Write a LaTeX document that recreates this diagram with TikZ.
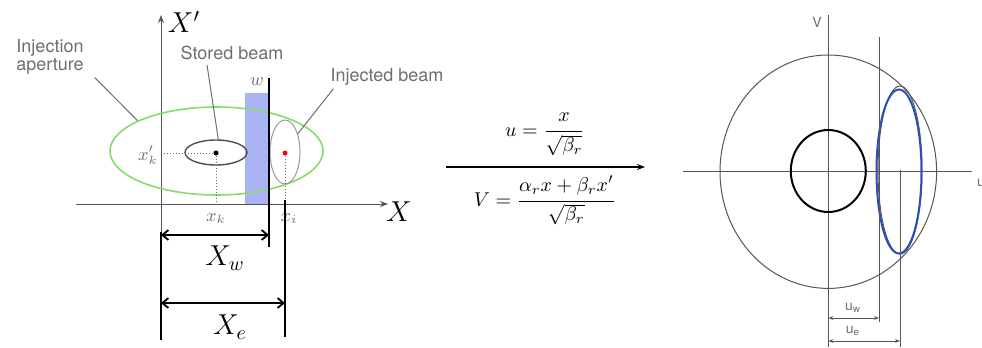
\documentclass[tikz,border=0pt]{standalone}
\usepackage{amsmath}
\usepackage{fontspec}
\setsansfont{TeX Gyre Heros}
\usepackage{tikz}
\usetikzlibrary{positioning,arrows.meta,calc,shapes.geometric}
\definecolor{apgreen}{HTML}{86DC6A}
\definecolor{septum}{HTML}{AAB3F4}
\definecolor{lblgray}{HTML}{6E6E6E}
\definecolor{axisgray}{HTML}{555555}
\definecolor{injblue}{HTML}{2B4FB8}

\begin{document}
\begin{tikzpicture}[
  x=0.5pt, y=-0.5pt,
  axis/.style={draw=axisgray, line width=0.5pt},
  bar/.style={line width=1.2pt},
  dim/.style={line width=0.9pt, {Straight Barb[length=3pt,width=5pt]}-{Straight Barb[length=3pt,width=5pt]}},
  thindim/.style={draw=axisgray, line width=0.4pt, {Stealth[length=2.5pt]}-{Stealth[length=2.5pt]}},
  beam/.style={ellipse, draw, inner sep=0pt},
  lbl/.style={font=\sffamily\small, text=lblgray},
  tiny/.style={font=\sffamily\scriptsize, text=lblgray},
  lead/.style={draw=lblgray, line width=0.5pt},
  dot/.style={circle, fill, inner sep=0pt, minimum size=2.5pt},
  guide/.style={densely dotted, draw=lblgray, line width=0.5pt},
  hand/.style={font=\Large},
  sym/.style={text=lblgray, font=\small},
  >={Stealth[length=4pt]}
]
\useasboundingbox (0,0) rectangle (982,348);

% ---- x-x' phase space ----
\coordinate (xbeg) at (76,204);
\coordinate (xend) at (388,204);
\coordinate (ybot) at (161,232);
\coordinate (ytop) at (161,15);
\fill[septum] (245,93) rectangle (268,204);
\draw[axis,->] (xbeg) -- (xend);
\draw[axis,->] (ybot) -- (ytop);
\node[hand] (xlab) at (399,212) {$X$};
\node[hand] (xplab) at (184,22) {$X'$};

\node[beam, draw=apgreen, line width=0.8pt, minimum width=106.5pt, minimum height=44pt] (aper) at (216.5,151) {};
\node[beam, draw=black!70, line width=0.7pt, minimum width=31pt, minimum height=12.5pt] (stored) at (216,152.5) {};
\node[beam, draw=gray!80, line width=0.5pt, minimum width=15pt, minimum height=32pt] (inj) at (285,152) {};
\node[dot] (kdot) at (216,153) {};
\node[dot, fill=red] (idot) at (285,153) {};

\draw[guide] (ytop |- kdot) -- (kdot);
\draw[guide] (kdot) -- (kdot |- xbeg);
\draw[guide] (idot) -- (idot |- xbeg);

\node[sym] (xkp) at (148,155) {$x'_k$};
\node[sym] (xk) at (216,219) {$x_k$};
\node[sym] (xi) at (289,219) {$x_i$};
\node[sym] (wlab) at (257,82) {$w$};

\node[lbl, align=center] (aplab) at (50,57) {Injection\\[-2pt]aperture};
\node[lbl] (stlab) at (232,53) {Stored beam};
\node[lbl] (inlab) at (387,77) {Injected beam};
\draw[lead] ($(aplab.south east)+(4,-4)$) -- (aper.159);
\draw[lead] ($(stlab.south)+(-25,-2)$) -- (stored.80);
\draw[lead] ($(inlab.south west)+(10,-4)$) -- (inj.55);

% septum, extension lines and dimensions
\coordinate (septop) at (269,78);
\coordinate (sepbot) at (269,247);
\coordinate (injtop) at (285,200);
\coordinate (injbot) at (285,337);
\coordinate (orgbot) at (161,340);
\draw[bar] (septop) -- (sepbot);
\draw[bar] (injtop) -- (injbot);
\draw[bar] (ybot) -- (orgbot);
\coordinate (xw0) at (161,235);
\coordinate (xe0) at (161,303);
\draw[dim] (xw0) -- (xw0 -| septop);
\draw[dim] (xe0) -- (xe0 -| injtop);
\node[hand] (xwlab) at (225,258) {$X_w$};
\node[hand] (xelab) at (230,327) {$X_e$};

% ---- mapping ----
\coordinate (mapl) at (446,167);
\coordinate (mapr) at (645,167);
\draw[line width=1.1pt, ->] (mapl) -- (mapr);
\node[anchor=south, inner sep=1pt] (ueq) at (545,161) {$u=\dfrac{\strut x}{\strut\sqrt{\beta_r}}$};
\node[anchor=north, inner sep=1pt] (veq) at (545,172) {$V=\dfrac{\strut\alpha_r x+\beta_r x'}{\strut\sqrt{\beta_r}}$};

% ---- u-v normalized space ----
\coordinate (ubeg) at (683,171.7);
\coordinate (uend) at (972,171.7);
\coordinate (vtop) at (828.3,15);
\coordinate (vbot) at (828.3,347);
\draw[axis] (ubeg) -- (uend);
\draw[axis] (vtop) -- (vbot);
\node[tiny] (vlab) at (817,22) {V};
\node[tiny] (ulab) at (981,183) {u};

\node[beam, draw=axisgray, line width=0.5pt, minimum width=108.3pt, minimum height=116.7pt] (acc) at (828.3,171.7) {};
\node[beam, line width=1pt, minimum width=37.5pt, minimum height=41pt] (core) at (828.3,171) {};
\node[beam, draw=axisgray, line width=0.5pt, minimum width=22pt, minimum height=84pt] (injo) at (900,170) {};
\node[beam, draw=injblue, line width=1pt, minimum width=22.5pt, minimum height=82pt] (injn) at (899,171.5) {};

\coordinate (uwtop) at (879,36.7);
\coordinate (uwbot) at (879,321.7);
\coordinate (uetop) at (900,170);
\coordinate (uebot) at (900,346.7);
\draw[axis] (uwtop) -- (uwbot);
\draw[axis] (uetop) -- (uebot);
\coordinate (uw0) at (828.3,318);
\coordinate (ue0) at (828.3,341);
\draw[thindim] (uw0) -- (uw0 -| uwtop);
\draw[thindim] (ue0) -- (ue0 -| uetop);
\node[tiny] (uwlab) at (853,308) {u\textsubscript{w}};
\node[tiny] (uelab) at (853,331) {u\textsubscript{e}};
\end{tikzpicture}
\end{document}
